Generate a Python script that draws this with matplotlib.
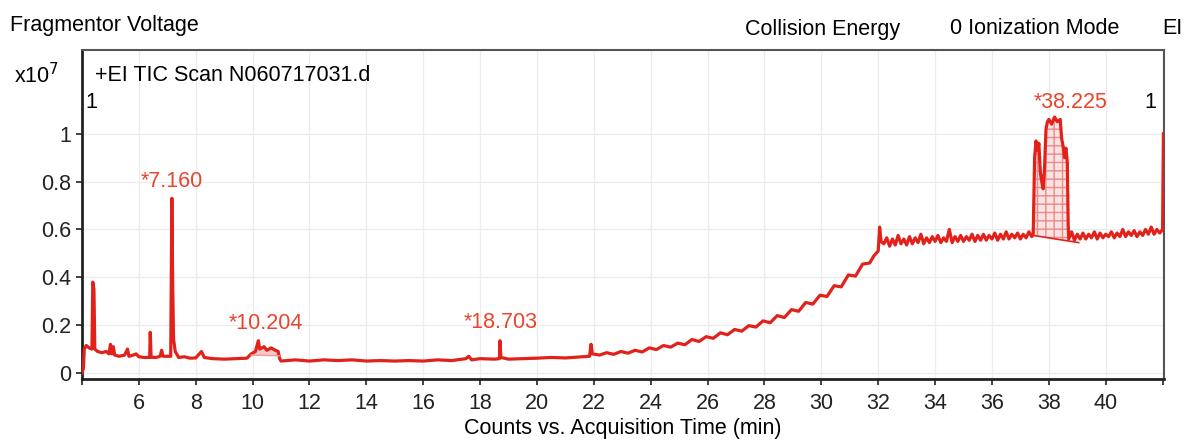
import numpy as np
import matplotlib
matplotlib.use("Agg")
import matplotlib.pyplot as plt

plt.rcParams['font.family'] = ['Liberation Sans', 'DejaVu Sans']

t_inicio = [4.00, 4.05, 4.08, 4.15, 4.25, 4.35, 4.38, 4.42, 4.45, 4.55, 4.70, 4.85,
            4.95, 5.00, 5.05, 5.10, 5.15, 5.30, 5.50, 5.60, 5.65, 5.80, 5.90, 6.00,
            6.20, 6.38, 6.40, 6.43, 6.60, 6.75, 6.80, 6.85, 7.00, 7.12, 7.16, 7.19,
            7.22, 7.28, 7.40, 7.60, 7.80, 8.00, 8.20, 8.30, 8.60, 9.00, 9.40, 9.80,
            9.95, 10.10, 10.20, 10.25, 10.40, 10.50, 10.65, 10.80, 10.90, 10.95]
y_inicio = [0.00, 0.02, 0.10, 0.115, 0.105, 0.10, 0.38, 0.35, 0.10, 0.09, 0.085, 0.09,
            0.08, 0.12, 0.08, 0.11, 0.075, 0.07, 0.075, 0.10, 0.07, 0.075, 0.08, 0.068,
            0.065, 0.065, 0.17, 0.066, 0.065, 0.07, 0.095, 0.07, 0.07, 0.07, 0.73, 0.36,
            0.14, 0.09, 0.065, 0.068, 0.062, 0.063, 0.09, 0.065, 0.06, 0.058, 0.06, 0.062,
            0.08, 0.09, 0.135, 0.10, 0.11, 0.095, 0.105, 0.095, 0.09, 0.06]

t_medio = [11.0, 11.5, 12.0, 12.5, 13.0, 13.5, 14.0, 14.5, 15.0, 15.5, 16.0, 16.5,
           17.0, 17.5, 17.6, 17.7, 18.0, 18.5, 18.68, 18.70, 18.73, 19.0, 19.5, 20.0,
           20.5, 21.0, 21.5, 21.85, 21.90, 21.95]
y_medio = [0.05, 0.055, 0.05, 0.055, 0.052, 0.055, 0.05, 0.052, 0.05, 0.052, 0.05, 0.055,
           0.052, 0.06, 0.07, 0.055, 0.06, 0.058, 0.06, 0.135, 0.065, 0.058, 0.06, 0.062,
           0.065, 0.063, 0.067, 0.07, 0.12, 0.08]

t_subida = [22.2, 22.45, 22.7, 22.95, 23.2, 23.45, 23.7, 23.95, 24.2, 24.45, 24.7,
            24.95, 25.2, 25.45, 25.7, 25.95, 26.2, 26.45, 26.7, 26.95, 27.2, 27.45,
            27.7, 27.95, 28.2, 28.45, 28.7, 28.95, 29.2, 29.45, 29.7, 29.95, 30.2,
            30.45, 30.7, 30.95, 31.2, 31.45, 31.7, 31.85, 32.0, 32.05, 32.1]
y_subida = [0.075, 0.085, 0.078, 0.09, 0.083, 0.095, 0.088, 0.105, 0.098, 0.115, 0.108,
            0.125, 0.118, 0.14, 0.132, 0.152, 0.145, 0.168, 0.16, 0.182, 0.175, 0.198,
            0.192, 0.218, 0.21, 0.24, 0.232, 0.265, 0.258, 0.295, 0.288, 0.325, 0.32,
            0.365, 0.36, 0.41, 0.405, 0.455, 0.46, 0.49, 0.51, 0.61, 0.55]

t_meseta = [32.2, 32.3, 32.4, 32.5, 32.6, 32.7, 32.8, 32.9, 33.0, 33.1, 33.2, 33.3,
            33.4, 33.5, 33.6, 33.7, 33.8, 33.9, 34.0, 34.1, 34.2, 34.3, 34.4, 34.5,
            34.6, 34.7, 34.8, 34.9, 35.0, 35.1, 35.2, 35.3, 35.4, 35.5, 35.6, 35.7,
            35.8, 35.9, 36.0, 36.1, 36.2, 36.3, 36.4, 36.5, 36.6, 36.7, 36.8, 36.9,
            37.0, 37.1, 37.2, 37.3, 37.4]
y_meseta = [0.54, 0.565, 0.53, 0.56, 0.535, 0.575, 0.54, 0.56, 0.535, 0.57, 0.54, 0.565,
            0.545, 0.58, 0.54, 0.565, 0.545, 0.57, 0.55, 0.575, 0.545, 0.565, 0.55, 0.60,
            0.545, 0.57, 0.55, 0.575, 0.55, 0.57, 0.555, 0.58, 0.55, 0.575, 0.555, 0.58,
            0.555, 0.575, 0.56, 0.585, 0.555, 0.58, 0.56, 0.59, 0.56, 0.58, 0.565, 0.585,
            0.56, 0.58, 0.565, 0.59, 0.57]

t_pico = [37.45, 37.50, 37.55, 37.60, 37.65, 37.70, 37.75, 37.80, 37.85, 37.90, 37.95,
          38.00, 38.10, 38.20, 38.30, 38.40, 38.45, 38.50, 38.55, 38.60, 38.65, 38.68]
y_pico = [0.58, 0.90, 0.97, 0.93, 0.96, 0.84, 0.80, 0.77, 0.86, 1.02, 1.05,
          1.06, 1.04, 1.07, 1.05, 1.06, 0.98, 0.95, 0.90, 0.94, 0.88, 0.62]

t_final = [38.70, 38.80, 38.90, 39.00, 39.10, 39.20, 39.30, 39.40, 39.50, 39.60, 39.70,
           39.80, 39.90, 40.00, 40.10, 40.20, 40.30, 40.40, 40.50, 40.60, 40.70, 40.80,
           40.90, 41.00, 41.10, 41.20, 41.30, 41.40, 41.50, 41.60, 41.70, 41.80, 41.90,
           42.00, 42.03]
y_final = [0.56, 0.59, 0.555, 0.58, 0.56, 0.585, 0.56, 0.58, 0.565, 0.59, 0.56,
           0.585, 0.565, 0.58, 0.57, 0.59, 0.565, 0.585, 0.57, 0.60, 0.57, 0.59,
           0.575, 0.595, 0.57, 0.59, 0.575, 0.60, 0.58, 0.61, 0.58, 0.60, 0.585,
           0.60, 1.00]

# picos marcados: (texto, x, y del centro del texto)
etiquetas = [("*7.160", 7.17, 0.80), ("*10.204", 10.48, 0.205),
             ("*18.703", 18.72, 0.213), ("*38.225", 38.78, 1.13)]

# cabecera: (texto, x en px)
cabecera = [("Collision Energy", 745), ("0 Ionization Mode", 950), ("EI", 1162)]

tiempo = np.array(t_inicio + t_medio + t_subida + t_meseta + t_pico + t_final)
cuentas = np.array(y_inicio + y_medio + y_subida + y_meseta + y_pico + y_final)

rojo = '#e3211b'
rojo_txt = '#e8452c'
fs = 15.5

fig = plt.figure(figsize=(11.89, 4.40), dpi=100)
ax = fig.add_axes([82/1189, 61/440, 1082/1189, 329/440])

ax.plot(tiempo, cuentas, color=rojo, lw=2.3, zorder=3)

# zona integrada del pico 38.225 con su linea base
tp = np.array(t_pico)
yp = np.array(y_pico)
base = 0.575 + (tp - 37.45) * (0.545 - 0.575) / (39.05 - 37.45)
ax.fill_between(tp, base, yp, facecolor='#fbe3e3', edgecolor='#ee8a8a',
                hatch='++', lw=0, zorder=2)
ax.plot([37.45, 39.05], [0.575, 0.545], color=rojo, lw=1.2, zorder=3)

# zona integrada del pico 10.204
t10 = np.array(t_inicio[48:57])
y10 = np.array(y_inicio[48:57])
ax.fill_between(t10, 0.075, y10, facecolor='#f6c9c9', lw=0, zorder=2)
ax.plot([9.95, 10.95], [0.075, 0.072], color='#ef9a9a', lw=1, zorder=3)

for texto, x, y in etiquetas:
    ax.text(x, y, texto, color=rojo_txt, fontsize=fs, ha='center', va='center')

ax.set_xlim(4.0, 42.05)
ax.set_ylim(-0.025, 1.35)
ax.set_xticks(np.arange(4, 43, 2))
ax.set_xticklabels([''] + [str(v) for v in range(6, 41, 2)] + [''])
ax.set_yticks([0, 0.2, 0.4, 0.6, 0.8, 1.0])
ax.set_yticklabels(['0', '0.2', '0.4', '0.6', '0.8', '1'])
ax.tick_params(labelsize=fs, length=4, width=1.2, direction='out', colors='#222222',
               pad=4)
ax.tick_params(axis='x', pad=6)
ax.grid(color='#ececec', linewidth=0.9)
ax.set_axisbelow(True)

for lado in ['left', 'bottom']:
    ax.spines[lado].set_linewidth(2)
    ax.spines[lado].set_color('#222222')
for lado in ['top', 'right']:
    ax.spines[lado].set_linewidth(1.5)
    ax.spines[lado].set_color('#555555')

ax.set_xlabel('Counts vs. Acquisition Time (min)', fontsize=fs, labelpad=3)

ax.text(0.012, 0.924, '+EI TIC Scan N060717031.d', transform=ax.transAxes,
        fontsize=fs, va='center', ha='left')
ax.text(0.003, 0.839, '1', transform=ax.transAxes, fontsize=fs, va='center', ha='left')
ax.text(0.993, 0.839, '1', transform=ax.transAxes, fontsize=fs, va='center', ha='right')

fig.text(10/1189, 1 - 26/440, 'Fragmentor Voltage', fontsize=fs, va='center')
for texto, x in cabecera:
    fig.text(x/1189, 1 - 29/440, texto, fontsize=fs, va='center')
fig.text(14/1189, 1 - 76/440, r'x10$^7$', fontsize=fs, va='center')

fig.savefig('out.png', dpi=100)
